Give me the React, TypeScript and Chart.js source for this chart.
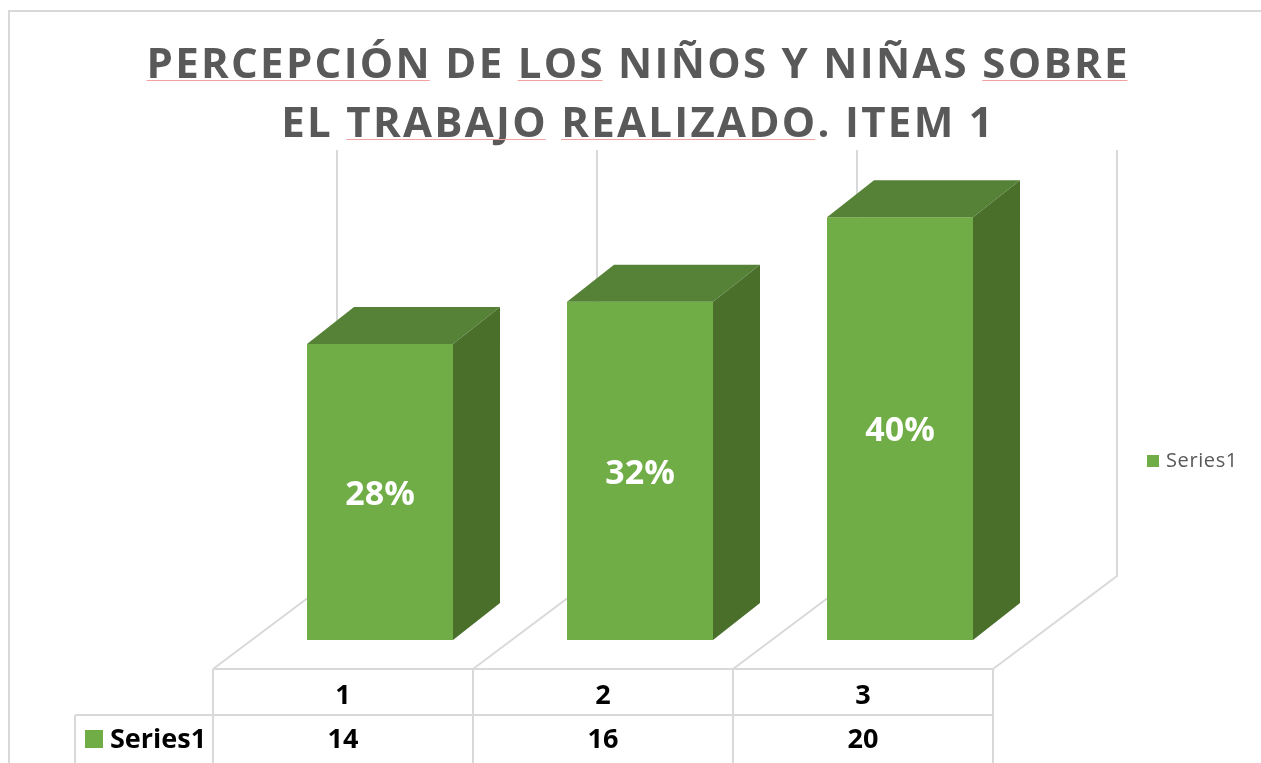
import React, { useEffect, useRef } from "react";
import { Chart, registerables } from "chart.js";

Chart.register(...registerables);

const titleLines = ["PERCEPCIÓN DE LOS NIÑOS Y NIÑAS SOBRE", "EL TRABAJO REALIZADO. ITEM 1"];
const underlinedWords = [["PERCEPCIÓN", "LOS", "SOBRE"], ["TRABAJO", "REALIZADO"]];
const categories = ["1", "2", "3"];
const seriesName = "Series1";
const counts = [14, 16, 20];
const percentLabels = ["28%", "32%", "40%"];

const FRONT = "#70ad47";
const TOP = "#558236";
const SIDE = "#4a6f2b";
const GRID = "#d9d9d9";

// depth offsets (pixels) relative to bar front plane
const FLOOR_FRONT = { dx: -37, dy: 29 };
const BACK = { dx: 87, dy: -64 };
const BAR_D = { dx: 47, dy: -37 };

const threeD = {
  id: "threeD",
  beforeDatasetsDraw(chart: any) {
    const { ctx, chartArea } = chart;
    const { left, right, top, bottom } = chartArea;
    const n = categories.length;
    const step = (right - left) / n;
    ctx.save();
    ctx.strokeStyle = GRID;
    ctx.lineWidth = 2;
    ctx.strokeRect(9, 11, 1300, 800);
    for (let i = 0; i <= n; i++) {
      const b = left + i * step;
      ctx.beginPath();
      ctx.moveTo(b + BACK.dx, top + BACK.dy);
      ctx.lineTo(b + BACK.dx, bottom + BACK.dy);
      ctx.lineTo(b + FLOOR_FRONT.dx, bottom + FLOOR_FRONT.dy);
      ctx.stroke();
    }
    ctx.restore();
  },
  afterDatasetsDraw(chart: any) {
    const { ctx } = chart;
    const meta = chart.getDatasetMeta(0);
    ctx.save();
    meta.data.forEach((el: any, i: number) => {
      const { x, y, base, width } = el.getProps(["x", "y", "base", "width"], true);
      const x0 = x - width / 2;
      const x1 = x + width / 2;
      ctx.fillStyle = TOP;
      ctx.beginPath();
      ctx.moveTo(x0, y);
      ctx.lineTo(x1, y);
      ctx.lineTo(x1 + BAR_D.dx, y + BAR_D.dy);
      ctx.lineTo(x0 + BAR_D.dx, y + BAR_D.dy);
      ctx.closePath();
      ctx.fill();
      ctx.fillStyle = SIDE;
      ctx.beginPath();
      ctx.moveTo(x1, y);
      ctx.lineTo(x1 + BAR_D.dx, y + BAR_D.dy);
      ctx.lineTo(x1 + BAR_D.dx, base + BAR_D.dy);
      ctx.lineTo(x1, base);
      ctx.closePath();
      ctx.fill();
      ctx.fillStyle = "#ffffff";
      ctx.font = "bold 34px 'Open Sans'";
      ctx.textAlign = "center";
      ctx.textBaseline = "middle";
      ctx.fillText(percentLabels[i], x, (y + base) / 2 + 3);
    });
    ctx.restore();
  },
  afterDraw(chart: any) {
    const { ctx, chartArea } = chart;
    const { left, right, bottom } = chartArea;
    const n = categories.length;
    const step = (right - left) / n;
    ctx.save();
    // title
    const ls = 2.3;
    ctx.font = "bold 42px 'Open Sans'";
    (ctx as any).letterSpacing = ls + "px";
    ctx.textBaseline = "alphabetic";
    ctx.textAlign = "left";
    const baselines = [78, 137];
    const cx = 637;
    titleLines.forEach((line, li) => {
      const w = ctx.measureText(line).width - ls;
      const sx = cx - w / 2;
      ctx.fillStyle = "#595959";
      ctx.fillText(line, sx, baselines[li]);
      ctx.strokeStyle = "#f2a0a0";
      ctx.lineWidth = 1;
      underlinedWords[li].forEach((word) => {
        const idx = line.indexOf(word);
        const before = ctx.measureText(line.slice(0, idx)).width;
        const ww = ctx.measureText(word).width - ls;
        ctx.beginPath();
        ctx.moveTo(sx + before, baselines[li] + 2.5);
        ctx.lineTo(sx + before + ww, baselines[li] + 2.5);
        ctx.stroke();
      });
    });
    (ctx as any).letterSpacing = "0px";

    // data table
    const y0 = bottom + FLOOR_FRONT.dy;
    const y1 = y0 + 46;
    const y2 = y1 + 46;
    const tl = left + FLOOR_FRONT.dx;
    const tr = right + FLOOR_FRONT.dx;
    const labelLeft = 75;
    ctx.strokeStyle = GRID;
    ctx.lineWidth = 2;
    ctx.beginPath();
    ctx.moveTo(tl, y0);
    ctx.lineTo(tr, y0);
    ctx.moveTo(labelLeft, y1);
    ctx.lineTo(tr, y1);
    for (let i = 0; i <= n; i++) {
      const b = tl + i * step;
      ctx.moveTo(b, y0);
      ctx.lineTo(b, y2 + 10);
    }
    ctx.moveTo(labelLeft, y1);
    ctx.lineTo(labelLeft, y2 + 10);
    ctx.stroke();

    ctx.fillStyle = "#000000";
    ctx.font = "bold 27px 'Open Sans'";
    ctx.textAlign = "center";
    ctx.textBaseline = "middle";
    categories.forEach((c, i) => {
      const mx = tl + (i + 0.5) * step;
      ctx.fillText(c, mx, (y0 + y1) / 2 + 4);
      ctx.fillText(String(counts[i]), mx, (y1 + y2) / 2 + 2);
    });
    ctx.fillStyle = FRONT;
    ctx.fillRect(85, 730, 18, 18);
    ctx.fillStyle = "#000000";
    ctx.textAlign = "left";
    ctx.fillText(seriesName, 110, (y1 + y2) / 2 + 2);

    // right legend
    ctx.fillStyle = FRONT;
    ctx.fillRect(1147, 455, 12, 12);
    ctx.fillStyle = "#595959";
    ctx.font = "20px 'Open Sans'";
    (ctx as any).letterSpacing = "0.6px";
    ctx.textBaseline = "middle";
    ctx.fillText(seriesName, 1166, 461);
    ctx.restore();
  },
};

export default function App() {
  const ref = useRef<HTMLCanvasElement | null>(null);
  useEffect(() => {
    if (!ref.current) return;
    const chart = new Chart(ref.current, {
      type: "bar",
      data: {
        labels: categories,
        datasets: [
          {
            label: seriesName,
            data: counts,
            backgroundColor: FRONT,
            borderWidth: 0,
            categoryPercentage: 1,
            barPercentage: 0.5615,
          },
        ],
      },
      options: {
        animation: false,
        responsive: true,
        maintainAspectRatio: false,
        layout: { padding: { left: 250, right: 231, top: 214, bottom: 123 } },
        scales: {
          x: { display: false, grid: { display: false } },
          y: { display: false, min: 0, max: 20.15, grid: { display: false } },
        },
        plugins: {
          legend: { display: false },
          title: { display: false },
          tooltip: { enabled: false },
        },
      },
      plugins: [threeD],
    });
    return () => chart.destroy();
  }, []);
  return (
    <div style={{ position: "fixed", left: 0, top: 0, width: 1261, height: 763, background: "#ffffff" }}>
      <canvas ref={ref} />
    </div>
  );
}
